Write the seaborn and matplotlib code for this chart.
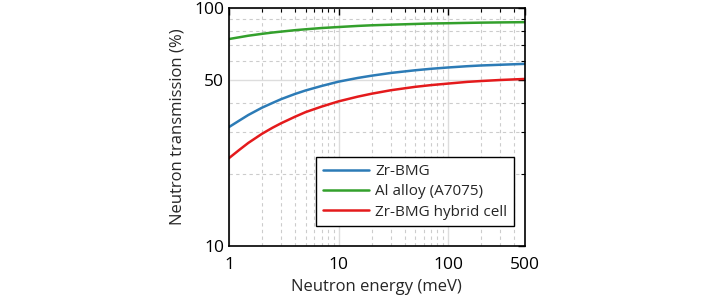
import numpy as np
import pandas as pd
import matplotlib
matplotlib.use("Agg")
import matplotlib.pyplot as plt
import seaborn as sns
from matplotlib.ticker import FixedLocator, NullFormatter

# neutron energy (meV) and transmission (%)
energy = [1, 1.25, 1.5, 2, 2.5, 3, 4, 5, 7, 10, 15, 20, 30, 50, 70, 100, 150, 200, 300, 500]
zr_bmg = [31.6, 33.7, 35.5, 38.1, 39.9, 41.4, 43.5, 45.0, 47.0, 49.0, 50.8, 51.9,
          53.3, 54.7, 55.5, 56.2, 56.9, 57.3, 57.7, 58.2]
al_alloy = [74.0, 75.3, 76.4, 77.8, 78.8, 79.5, 80.6, 81.3, 82.3, 83.1, 84.0, 84.5,
            85.0, 85.6, 86.0, 86.2, 86.5, 86.7, 86.9, 87.1]
hybrid = [23.4, 25.4, 27.1, 29.6, 31.4, 32.8, 34.9, 36.5, 38.5, 40.5, 42.4, 43.6,
          45.1, 46.6, 47.4, 48.1, 48.9, 49.3, 49.8, 50.3]

names = ["Zr-BMG", "Al alloy (A7075)", "Zr-BMG hybrid cell"]
colors = ["#2c7bb6", "#33a02c", "#e41a1c"]

df = pd.DataFrame({
    "energy": energy * 3,
    "transmission": zr_bmg + al_alloy + hybrid,
    "material": [names[0]] * len(energy) + [names[1]] * len(energy) + [names[2]] * len(energy),
})

sns.set_style("white")
plt.rcParams["font.family"] = ["Open Sans", "DejaVu Sans"]

fig = plt.figure(figsize=(7.09, 3.03), dpi=100)
ax = fig.add_axes([0.323, 0.188, 0.417, 0.786])

sns.lineplot(data=df, x="energy", y="transmission", hue="material",
             palette=dict(zip(names, colors)), linewidth=1.8, ax=ax)

ax.set_xscale("log")
ax.set_yscale("log")
ax.set_xlim(1, 500)
ax.set_ylim(10, 100)

ax.xaxis.set_major_locator(FixedLocator([1, 10, 100, 500]))
ax.set_xticklabels(["1", "10", "100", "500"])
xminor = [2, 3, 4, 5, 6, 7, 8, 9, 20, 30, 40, 50, 60, 70, 80, 90, 200, 300, 400]
ax.xaxis.set_minor_locator(FixedLocator(xminor))
ax.xaxis.set_minor_formatter(NullFormatter())

ax.yaxis.set_major_locator(FixedLocator([10, 50, 100]))
ax.set_yticklabels(["10", "50", "100"])
ax.yaxis.set_minor_locator(FixedLocator([20, 30, 40, 60, 70, 80, 90]))
ax.yaxis.set_minor_formatter(NullFormatter())

ax.grid(True, which="major", color="#dddddd", linestyle="-", linewidth=1.0)
ax.grid(True, which="minor", color="#cccccc", linestyle=(0, (3, 3)), linewidth=0.8)
ax.set_axisbelow(True)

ax.tick_params(which="both", direction="in", top=True, right=True, colors="black")
ax.tick_params(which="major", length=5, width=1, labelsize=12.5)
ax.tick_params(which="minor", length=3, width=0.8)
ax.tick_params(axis="x", pad=8)

for s in ax.spines.values():
    s.set_color("black")
    s.set_linewidth(1.2)

ax.set_xlabel("Neutron energy (meV)", fontsize=12, labelpad=4)
ax.set_ylabel("Neutron transmission (%)", fontsize=12, labelpad=6)

leg = ax.legend(loc="lower right", bbox_to_anchor=(0.99, 0.05), fontsize=11,
                frameon=True, fancybox=False, edgecolor="black", framealpha=1,
                handlelength=3.0, borderpad=0.45, labelspacing=0.35, handletextpad=0.4)
leg.set_title(None)
leg.get_frame().set_linewidth(1.0)

fig.savefig("out.png", dpi=100)
